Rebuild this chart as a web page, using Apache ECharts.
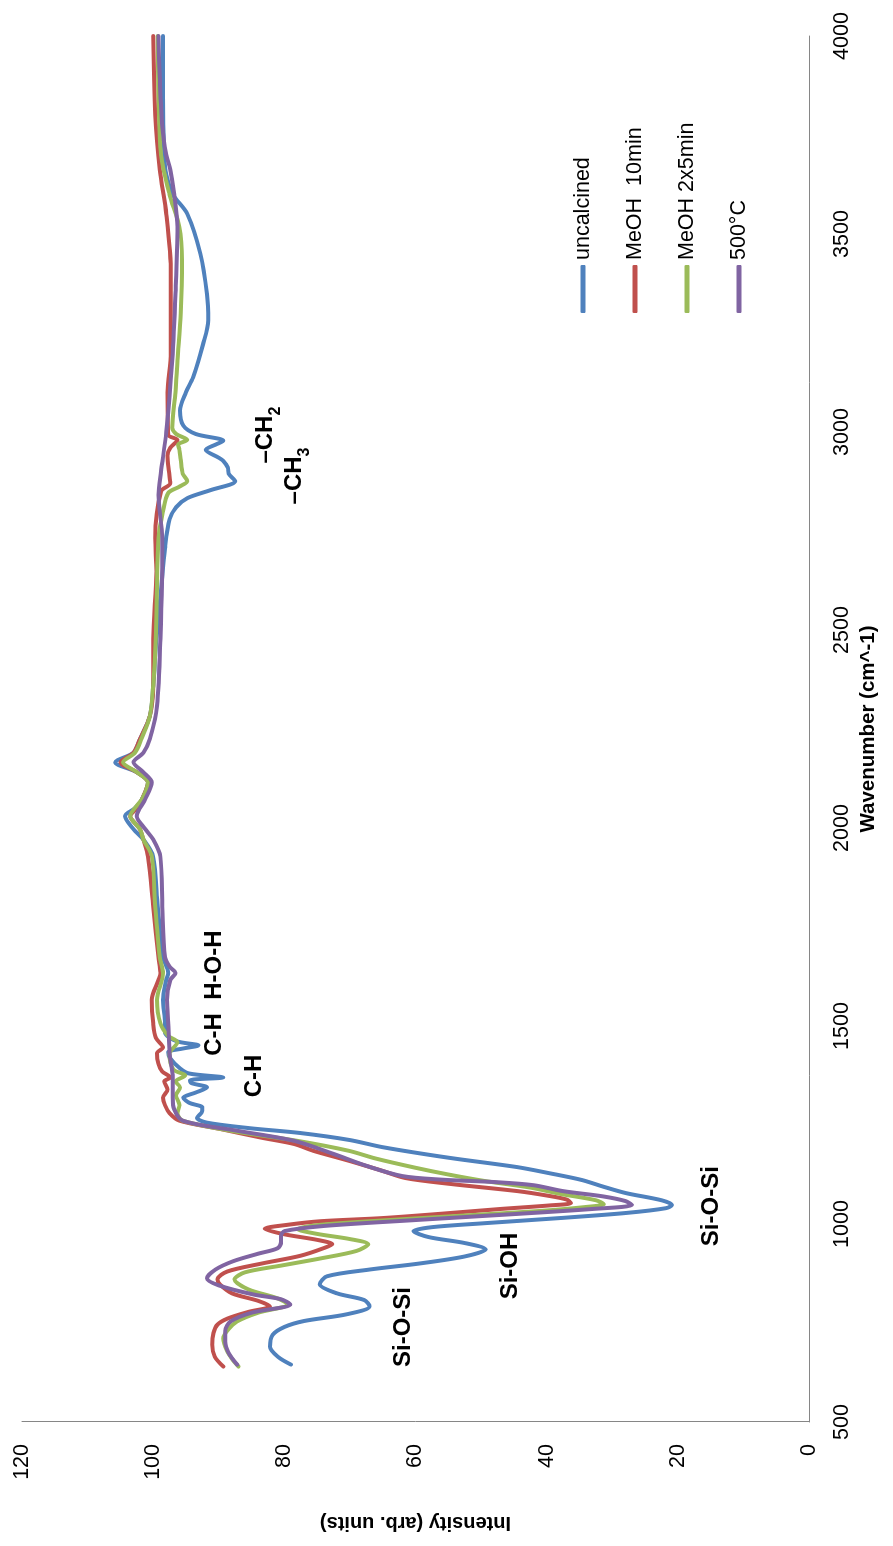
<!DOCTYPE html>
<html>
<head>
<meta charset="utf-8">
<script src="https://cdn.jsdelivr.net/npm/echarts@6/dist/echarts.min.js"></script>
<style>
  html, body { margin: 0; padding: 0; background: #fff; overflow: hidden; width: 893px; height: 1546px; }
  /* The spectrum is laid out landscape and turned a quarter turn counter-clockwise onto the portrait page. */
  #chart { position: absolute; left: 0; top: 0; width: 1546px; height: 893px;
           transform-origin: 0 0; transform: translate(0, 1546px) rotate(-90deg); }
</style>
</head>
<body>
<div id="chart"></div>
<script>
// FTIR spectra: [wavenumber (cm^-1), intensity (arb. units)]
const uncalcined = [
  [645,79.0],[665,81.0],[690,82.2],[720,81.8],[740,80.0],[755,77.0],[772,70.5],[792,67.0],[808,67.8],[825,72.0],
  [848,74.6],[868,73.5],[885,67.0],[900,59.5],[918,52.5],[936,49.3],[952,52.5],[967,58.0],[982,60.3],[992,57.5],
  [1002,49.5],[1015,38.0],[1028,27.8],[1040,21.8],[1048,20.9],[1060,22.5],[1078,27.9],[1095,31.5],[1111,34.6],[1128,39.5],
  [1144,44.6],[1167,54.8],[1194,65.0],[1212,70.0],[1230,77.7],[1242,85.3],[1256,91.8],[1268,93.3],[1282,92.6],[1294,92.5],
  [1306,94.5],[1319,95.4],[1332,93.5],[1345,91.8],[1356,94.2],[1363,94.4],[1370,89.3],[1380,94.5],[1393,95.9],[1420,97.5],
  [1434,97.7],[1443,95.5],[1451,93.1],[1462,96.5],[1484,98.2],[1507,98.2],[1566,98.5],[1616,98.0],[1634,97.7],[1674,98.5],
  [1801,99.3],[1928,100.0],[1971,101.5],[1997,103.0],[2030,104.3],[2050,102.8],[2073,101.7],[2115,100.8],[2141,102.5],[2166,105.8],
  [2190,103.0],[2225,102.0],[2283,100.5],[2359,100.0],[2478,99.5],[2600,98.8],[2706,98.2],[2780,97.5],[2810,96.5],[2833,94.8],
  [2853,91.3],[2876,87.5],[2895,88.5],[2910,88.6],[2927,89.3],[2935,90.0],[2955,92.0],[2968,90.5],[2978,89.3],[2995,93.5],
  [3016,95.4],[3054,95.9],[3100,95.0],[3138,93.9],[3221,92.4],[3282,91.6],[3348,91.8],[3450,92.8],[3551,94.8],[3600,97.0],
  [3650,98.0],[3700,98.3],[3850,98.5],[4000,98.5]
];
const meoh10min = [
  [640,89.3],[665,90.6],[695,91.0],[725,90.8],[746,90.2],[761,88.7],[778,85.5],[792,82.2],[806,84.0],[825,88.0],
  [847,89.8],[860,90.2],[880,88.7],[900,83.5],[920,77.5],[939,74.0],[949,72.7],[960,75.0],[974,80.0],[988,83.0],
  [998,79.5],[1007,74.5],[1015,65.0],[1026,56.0],[1038,47.0],[1047,39.5],[1053,36.3],[1062,37.0],[1072,40.0],[1083,44.4],
  [1101,54.6],[1116,61.5],[1134,65.0],[1159,70.0],[1185,75.6],[1202,78.5],[1218,83.5],[1240,89.8],[1261,96.0],[1280,97.5],
  [1300,98.2],[1319,98.5],[1340,97.8],[1360,98.3],[1370,97.4],[1385,98.6],[1405,99.2],[1431,99.4],[1446,98.5],[1470,99.6],
  [1507,100.0],[1566,100.2],[1616,99.2],[1634,98.9],[1674,99.2],[1801,100.0],[1928,100.8],[1971,101.5],[1997,102.0],[2030,103.5],
  [2050,102.5],[2073,101.7],[2115,100.8],[2141,102.5],[2166,105.0],[2190,103.0],[2225,102.0],[2283,100.5],[2359,100.0],[2478,100.0],
  [2648,99.5],[2732,99.7],[2850,98.8],[2871,97.4],[2900,97.6],[2940,97.8],[2960,97.4],[2980,96.3],[2993,97.7],[3100,97.8],
  [3200,97.3],[3400,97.3],[3550,98.0],[3663,99.0],[3800,99.7],[4000,100.0]
];
const meoh2x5min = [
  [640,87.0],[660,88.0],[678,88.7],[711,89.3],[735,88.5],[754,87.2],[776,84.0],[797,79.5],[812,81.0],[835,85.5],
  [860,87.6],[878,86.0],[895,80.5],[913,74.5],[932,69.0],[949,67.2],[962,70.0],[975,75.0],[987,78.0],[998,74.5],
  [1010,64.0],[1022,52.0],[1033,41.0],[1043,34.0],[1050,31.3],[1060,32.5],[1076,37.9],[1092,42.5],[1109,49.6],[1125,55.0],
  [1142,60.0],[1165,66.0],[1185,70.2],[1210,78.0],[1235,88.0],[1261,95.5],[1280,96.3],[1300,96.0],[1325,96.5],[1345,95.9],
  [1360,96.6],[1375,95.1],[1390,96.9],[1430,97.5],[1459,96.3],[1475,97.7],[1507,98.9],[1566,99.4],[1634,98.5],[1674,99.0],
  [1801,99.7],[1928,100.2],[1971,101.5],[1997,102.0],[2030,103.5],[2073,101.7],[2115,100.8],[2141,102.5],[2166,104.6],[2190,102.8],
  [2225,101.8],[2283,100.5],[2359,100.0],[2478,99.6],[2732,99.2],[2800,98.5],[2846,97.7],[2862,96.0],[2876,94.8],[2895,95.5],
  [2930,95.8],[2955,96.0],[2968,96.2],[2980,94.8],[2995,96.5],[3011,97.1],[3100,96.6],[3181,96.3],[3300,95.8],[3434,95.6],
  [3518,96.0],[3600,97.5],[3700,98.8],[3850,99.2],[4000,99.3]
];
const calcined500 = [
  [645,87.2],[675,88.5],[703,89.0],[730,89.0],[754,88.2],[776,85.0],[797,79.1],[810,80.5],[822,84.7],[845,90.0],
  [863,91.8],[885,90.5],[906,87.8],[925,84.0],[939,81.0],[955,80.5],[970,80.5],[982,80.0],[995,74.0],[1010,60.0],
  [1025,45.0],[1038,33.0],[1048,27.0],[1058,28.0],[1070,31.5],[1083,37.5],[1098,42.0],[1106,48.0],[1112,56.0],[1121,62.0],
  [1147,67.5],[1177,72.5],[1210,78.5],[1235,87.0],[1261,95.5],[1290,96.8],[1319,97.0],[1370,97.0],[1431,97.5],[1507,97.7],
  [1566,97.9],[1616,97.4],[1634,96.6],[1650,97.5],[1674,98.2],[1801,98.6],[1928,98.9],[1971,100.0],[1997,101.2],[2030,102.5],
  [2073,101.2],[2115,100.2],[2141,101.5],[2166,103.0],[2190,101.5],[2225,100.5],[2308,99.4],[2478,98.9],[2732,98.6],[2841,99.2],
  [2900,98.8],[3000,98.0],[3181,97.1],[3350,96.6],[3518,96.3],[3600,96.8],[3663,97.4],[3700,98.0],[3772,98.6],[3900,99.0],
  [4000,99.2]
];

const seriesNames = ['uncalcined', 'MeOH  10min', 'MeOH 2x5min', '500°C'];
const seriesData = [uncalcined, meoh10min, meoh2x5min, calcined500];
const seriesColors = ['#4F81BD', '#C0504D', '#9BBB59', '#8064A2'];

// Band assignments: text, optional subscript, and the (wavenumber, intensity) spot they sit at
const bandLabels = [
  { text: '–CH', sub: '2', at: [2992, 82.7] },
  { text: '–CH', sub: '3', at: [2889, 78.3] },
  { text: 'C-H  H-O-H', at: [1583, 90.5] },
  { text: 'C-H', at: [1374, 84.4] },
  { text: 'Si-O-Si', at: [1045, 14.8] },
  { text: 'Si-OH', at: [894, 45.4] },
  { text: 'Si-O-Si', at: [740, 61.7] }
];

const FONT = '"Liberation Sans", Arial, sans-serif';
const chart = echarts.init(document.getElementById('chart'), null, { renderer: 'canvas' });

chart.setOption({
  animation: false,
  backgroundColor: '#fff',
  grid: { left: 124, right: 36, top: 22, bottom: 84 },
  legend: {
    orient: 'vertical',
    left: 1228, top: 566,
    icon: 'roundRect',
    itemWidth: 48, itemHeight: 5, itemGap: 28,
    textStyle: { fontFamily: FONT, fontSize: 21.5, color: '#000', lineHeight: 24 },
    data: seriesNames
  },
  xAxis: {
    type: 'value', min: 500, max: 4000, interval: 500,
    name: 'Wavenumber (cm^-1)', nameLocation: 'middle', nameGap: 48,
    nameTextStyle: { fontFamily: FONT, fontSize: 20.5, fontWeight: 'bold', color: '#000' },
    axisLine: { show: true, lineStyle: { color: '#868686', width: 1 } },
    axisTick: { show: false },
    splitLine: { show: false },
    axisLabel: { fontFamily: FONT, fontSize: 21.5, color: '#000', margin: 22, formatter: v => String(v) }
  },
  yAxis: {
    type: 'value', min: 0, max: 120, interval: 20,
    name: 'Intensity (arb. units)', nameLocation: 'middle', nameGap: 91, nameRotate: 90,
    nameTextStyle: { fontFamily: FONT, fontSize: 20, fontWeight: 'bold', color: '#000' },
    axisLine: { show: true, lineStyle: { color: '#868686', width: 1 } },
    axisTick: { show: false },
    splitLine: { show: false },
    axisLabel: { fontFamily: FONT, fontSize: 21.5, color: '#000', margin: 22, formatter: v => String(v) }
  },
  series: seriesData.map((d, i) => ({
    name: seriesNames[i],
    type: 'line',
    data: d,
    smooth: 0.3,
    symbol: 'none',
    showSymbol: false,
    color: seriesColors[i],
    lineStyle: { width: 4, color: seriesColors[i], cap: 'round', join: 'round' }
  }))
});

// Peak assignments placed through the axes' own scales
const graphics = bandLabels.map(b => {
  const p = chart.convertToPixel({ gridIndex: 0 }, b.at);
  const text = b.sub ? '{m|' + b.text + '}{s|' + b.sub + '}' : '{m|' + b.text + '}';
  return {
    type: 'text', x: p[0], y: p[1], silent: true,
    style: {
      text: text,
      align: 'center', verticalAlign: 'middle',
      textAlign: 'center', textVerticalAlign: 'middle',
      fill: '#000',
      rich: {
        m: { fontFamily: FONT, fontSize: 24, fontWeight: 'bold', fill: '#000', lineHeight: 26, verticalAlign: 'top' },
        s: { fontFamily: FONT, fontSize: 16, fontWeight: 'bold', fill: '#000', lineHeight: 16, verticalAlign: 'top', padding: [14, 0, 0, 0] }
      }
    }
  };
});
chart.setOption({ graphic: graphics });
</script>
</body>
</html>
